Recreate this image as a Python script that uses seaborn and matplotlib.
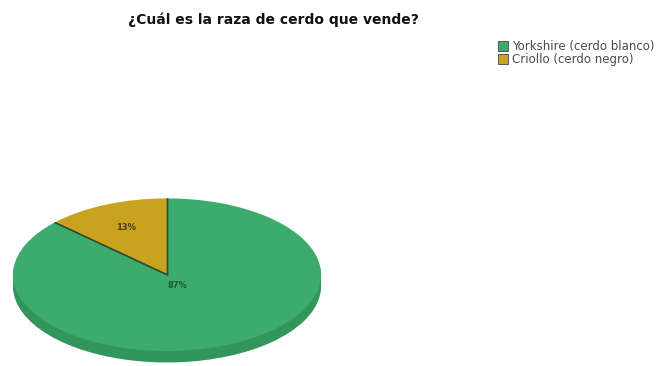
import matplotlib
matplotlib.use("Agg")
import matplotlib.pyplot as plt
import numpy as np
import seaborn as sns

# Survey answers: pig breed sold
breeds = ["Yorkshire (cerdo blanco)", "Criollo (cerdo negro)"]
shares = [87, 13]
title = "¿Cuál es la raza de cerdo que vende?"

top_colors = ["#3cab6d", "#c9a21f"]
side_colors = ["#31955c", "#a5841a"]

sns.set_theme(style="white")
plt.rcParams["font.family"] = ["DejaVu Sans"]

fig = plt.figure(figsize=(6.6, 3.66), dpi=100)
W, H = 660, 366

# Axes placed in pixel terms: top face spans x 13..320, y 198..352, rim to ~364
x0, x1 = 13, 321
y_top, y_bot = 198, 364
ax = fig.add_axes([x0 / W, (H - y_bot) / H, (x1 - x0) / W, (y_bot - y_top) / H])

depth = 0.15
# side rim: stacked copies of the pie shifted downward
for k in range(8, 0, -1):
    off = -depth * k / 8
    ax.pie(shares, colors=side_colors, startangle=90, counterclock=False,
           center=(0, off), radius=1.0, wedgeprops=dict(linewidth=0))

wedges, texts, autotexts = ax.pie(
    shares, colors=top_colors, startangle=90, counterclock=False,
    center=(0, 0), radius=1.0, autopct="%d%%", pctdistance=0.67,
    wedgeprops=dict(linewidth=0),
    textprops=dict(fontsize=6, fontweight="bold"))

# dark divider lines along the slice boundaries
for w in wedges:
    for ang in (w.theta1, w.theta2):
        a = np.deg2rad(ang)
        ax.plot([0, np.cos(a)], [0, np.sin(a)], color="#2b4f2c", lw=1.0,
                solid_capstyle="butt", zorder=5)

ax.set_aspect("auto")
ax.set_xlim(-1.0, 1.0)
ax.set_ylim(-1.0 - depth - 0.02, 1.0 + 0.005)
ax.axis("off")

# percentage label styling
autotexts[0].set_position((0.07, -0.14))
autotexts[0].set_color("#1f5a2f")
autotexts[1].set_color("#4a3a10")

fig.text(273 / W, 1 - 20 / H, title, ha="center", va="center",
         fontsize=10, fontweight="bold", color="#111111")

handles = [plt.Rectangle((0, 0), 1, 1, facecolor=c, edgecolor="#444444", linewidth=0.6)
           for c in top_colors]
fig.legend(handles, breeds, loc="upper left", bbox_to_anchor=(490 / W, 1 - 32 / H),
           frameon=False, fontsize=8.5, handlelength=0.85, handleheight=0.85,
           handletextpad=0.35, labelspacing=0.0, borderpad=0.2,
           labelcolor="#4a4a4a")

fig.savefig("out.png", dpi=100, facecolor="white")
